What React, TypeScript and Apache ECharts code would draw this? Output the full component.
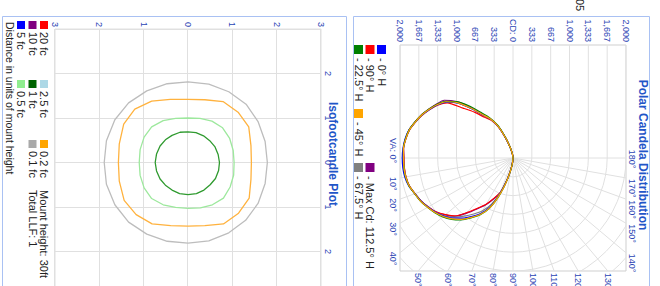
import React, { useEffect, useRef } from "react";
import * as echarts from "echarts";

// ---------------- Polar candela distribution (values in cd) ----------------
const VA_ANGLES = [0, 5, 10, 15, 20, 25, 30, 35, 40, 45, 50, 55, 60, 65, 70, 75, 80, 85, 90];
const CD_AXIS_MAX = 2000;
const CD_GRID_DIVISIONS = 6;
const ANGLE_LABELS = [0, 10, 20, 30, 40, 50, 60, 70, 80, 90, 100, 110, 120, 130, 140, 150, 160, 170, 180];
const GRID_SPOKES = [10, 20, 30, 40, 50, 60, 70, 80, 90, 100, 110, 120, 130, 140, 150, 160, 170];

// right side of plot = this plane, left side = opposite plane
const H0_RIGHT = [1960, 1958, 1945, 1910, 1850, 1800, 1738, 1675, 1600, 1505, 1390, 1260, 1130, 950, 670, 395, 190, 70, 0];
const H0_LEFT = [1960, 1955, 1940, 1908, 1846, 1785, 1712, 1638, 1540, 1372, 1140, 930, 790, 615, 368, 192, 88, 34, 0];
const H90_RIGHT = [1930, 1930, 1922, 1898, 1845, 1795, 1730, 1660, 1558, 1451, 1257, 1080, 938, 779, 637, 390, 177, 65, 0];
const H90_LEFT = [1930, 1944, 1926, 1898, 1840, 1780, 1708, 1630, 1520, 1250, 1060, 880, 770, 600, 360, 190, 86, 34, 0];
const H22_RIGHT = [1940, 1940, 1932, 1905, 1852, 1808, 1748, 1690, 1622, 1535, 1430, 1295, 1160, 980, 700, 410, 200, 75, 0];
const H22_LEFT = [1940, 1947, 1932, 1905, 1850, 1792, 1722, 1650, 1560, 1410, 1200, 980, 820, 635, 380, 200, 92, 36, 0];
const H45_RIGHT = [1938, 1938, 1929, 1903, 1850, 1805, 1743, 1682, 1611, 1522, 1416, 1283, 1151, 974, 690, 407, 195, 71, 0];
const H45_LEFT = [1938, 1947, 1929, 1903, 1846, 1788, 1717, 1643, 1549, 1381, 1151, 938, 797, 620, 372, 195, 89, 35, 0];
const H67_RIGHT = [1935, 1935, 1925, 1900, 1846, 1800, 1738, 1675, 1590, 1480, 1345, 1210, 1080, 900, 640, 380, 180, 65, 0];
const H67_LEFT = [1935, 1945, 1928, 1900, 1843, 1785, 1715, 1640, 1545, 1375, 1145, 935, 795, 618, 370, 194, 88, 35, 0];
const H112_RIGHT = [1932, 1932, 1925, 1900, 1848, 1800, 1735, 1665, 1565, 1460, 1275, 1095, 950, 790, 645, 392, 182, 66, 0];
const H112_LEFT = [1932, 1946, 1930, 1905, 1850, 1795, 1725, 1660, 1590, 1410, 1170, 945, 800, 622, 374, 196, 89, 35, 0];

const POLAR_NAMES = ["- 0° H", "- 90° H", "- 22.5° H", "- 45° H", "- 67.5° H", "- Max Cd: 112.5° H"];
const POLAR_COLORS = ["#0000ff", "#ff0000", "#008000", "#ffa500", "#808080", "#800080"];
const POLAR_DRAW_ORDER = [5, 1, 4, 0, 2, 3];

// ---------------- Isofootcandle (units of mount height) ----------------
const ISO_01FC = [[1.81, 0], [1.76, 0.47], [1.58, 0.92], [1.30, 1.30], [0.92, 1.58], [0.47, 1.74], [0, 1.79], [-0.47, 1.74], [-0.92, 1.58], [-1.31, 1.31], [-1.59, 0.92], [-1.76, 0.47], [-1.81, 0], [-1.77, -0.47], [-1.61, -0.93], [-1.34, -1.34], [-0.96, -1.65], [-0.49, -1.84], [0, -1.89], [0.49, -1.84], [0.95, -1.65], [1.34, -1.34], [1.61, -0.93], [1.77, -0.47], [1.81, 0]];
const ISO_02FC = [[1.43, 0], [1.42, 0.38], [1.38, 0.80], [1.14, 1.14], [0.80, 1.38], [0.38, 1.42], [0, 1.43], [-0.38, 1.42], [-0.80, 1.37], [-1.13, 1.13], [-1.37, 0.79], [-1.41, 0.38], [-1.42, 0], [-1.42, -0.40], [-1.38, -0.82], [-1.20, -1.20], [-0.86, -1.45], [-0.42, -1.55], [0, -1.57], [0.42, -1.55], [0.85, -1.44], [1.17, -1.17], [1.38, -0.81], [1.42, -0.39], [1.43, 0]];
const ISO_05FC = [[1.03, 0], [1.02, 0.28], [0.95, 0.55], [0.80, 0.80], [0.55, 0.95], [0.28, 1.03], [0, 1.04], [-0.27, 1.02], [-0.54, 0.94], [-0.78, 0.78], [-0.93, 0.54], [-0.99, 0.27], [-1.00, 0], [-0.99, -0.28], [-0.94, -0.56], [-0.80, -0.82], [-0.57, -0.99], [-0.29, -1.08], [0, -1.10], [0.29, -1.08], [0.57, -0.99], [0.81, -0.82], [0.95, -0.56], [1.01, -0.28], [1.03, 0]];
const ISO_1FC = [[0.72, 0], [0.70, 0.19], [0.62, 0.36], [0.50, 0.50], [0.36, 0.62], [0.18, 0.69], [0, 0.71], [-0.18, 0.68], [-0.35, 0.61], [-0.49, 0.49], [-0.60, 0.35], [-0.67, 0.18], [-0.69, 0], [-0.68, -0.18], [-0.61, -0.36], [-0.51, -0.51], [-0.37, -0.63], [-0.19, -0.71], [0, -0.74], [0.19, -0.71], [0.37, -0.63], [0.51, -0.51], [0.62, -0.36], [0.70, -0.19], [0.72, 0]];

const ISO_LEVEL_NAMES = ["20 fc", "10 fc", "5 fc", "2.5 fc", "1 fc", "0.5 fc", "0.2 fc", "0.1 fc"];
const ISO_LEVEL_COLORS = ["#ff0000", "#800080", "#0000ff", "#add8e6", "#006400", "#90ee90", "#ffa500", "#a9a9a9"];
const ISO_INFO = ["Mount height: 30ft", "Total LLF: 1"];

const FONT = '"Liberation Sans", Arial, sans-serif';
const TITLE_BLUE = "#1f56c8";
const LABEL_BLUE = "#2a44b4";
const GRID_LINE = "#e0e0e0";
const PANEL_BORDER = "#a9c1f3";
const TEXT_DARK = "#222222";

function toPolarData(right: number[], left: number[]) {
  const pts: number[][] = [];
  for (let i = VA_ANGLES.length - 1; i >= 0; i--) pts.push([right[i], VA_ANGLES[i]]);
  for (let i = 1; i < VA_ANGLES.length; i++) pts.push([left[i], 360 - VA_ANGLES[i]]);
  return pts;
}

function txt(x: number, y: number, text: string, font: string, fill: string, align = "left", vAlign = "middle") {
  return {
    type: "text",
    x,
    y,
    silent: true,
    style: { text, font, fill, align, verticalAlign: vAlign, textAlign: align, textVerticalAlign: vAlign },
  };
}

function sq(x: number, y: number, size: number, color: string) {
  return { type: "rect", silent: true, shape: { x, y, width: size, height: size }, style: { fill: color } };
}

function buildOption() {
  const cdStep = CD_AXIS_MAX / CD_GRID_DIVISIONS;
  const polarData = [
    toPolarData(H0_RIGHT, H0_LEFT),
    toPolarData(H90_RIGHT, H90_LEFT),
    toPolarData(H22_RIGHT, H22_LEFT),
    toPolarData(H45_RIGHT, H45_LEFT),
    toPolarData(H67_RIGHT, H67_LEFT),
    toPolarData(H112_RIGHT, H112_LEFT),
  ];

  const gridData: number[][] = [];
  for (let k = 1; k <= CD_GRID_DIVISIONS + 2; k++) gridData.push([0, k]);
  GRID_SPOKES.forEach((a) => gridData.push([1, a]));
  for (let k = -CD_GRID_DIVISIONS; k <= CD_GRID_DIVISIONS; k++) gridData.push([2, k]);
  gridData.push([3, 0]);

  const D = CD_GRID_DIVISIONS;
  const lineStyle = { stroke: GRID_LINE, lineWidth: 1, fill: "none" };

  const polarSeries = POLAR_DRAW_ORDER.map((i) => ({
    type: "line",
    name: POLAR_NAMES[i],
    coordinateSystem: "polar",
    polarIndex: 0,
    data: polarData[i],
    showSymbol: false,
    smooth: 0.2,
    lineStyle: { color: POLAR_COLORS[i], width: 1.2 },
    z: 5,
  }));

  const isoSets = [
    { data: ISO_01FC, color: "#bdbdbd" },
    { data: ISO_02FC, color: "#ffb23e" },
    { data: ISO_05FC, color: "#9de89d" },
    { data: ISO_1FC, color: "#2f9a2f" },
  ];
  const isoSeries = isoSets.map((s) => ({
    type: "line",
    xAxisIndex: 1,
    yAxisIndex: 1,
    data: s.data,
    showSymbol: false,
    smooth: false,
    lineStyle: { color: s.color, width: 1.3 },
    z: 5,
  }));

  const graphics: any[] = [];
  graphics.push({ type: "rect", silent: true, z: -10, shape: { x: 16.5, y: 10.5, width: 300, height: 296 }, style: { fill: "none", stroke: PANEL_BORDER, lineWidth: 1 } });
  graphics.push({ type: "rect", silent: true, z: -10, shape: { x: 16.5, y: 313.5, width: 300, height: 344 }, style: { fill: "none", stroke: PANEL_BORDER, lineWidth: 1 } });
  graphics.push(txt(155, 17, "Polar Candela Distribution", `bold 12px ${FONT}`, TITLE_BLUE, "center"));
  graphics.push(txt(154, 327, "Isofootcandle Plot", `bold 12px ${FONT}`, TITLE_BLUE, "center"));
  graphics.push(txt(-1, 80, "05", `11px ${FONT}`, TEXT_DARK, "left"));

  const polarLegendPos = [[45, 274], [45, 285.5], [45, 297], [109, 297], [163, 297], [163, 285.5]];
  POLAR_NAMES.forEach((name, i) => {
    const [x, y] = polarLegendPos[i];
    graphics.push(sq(x, y, 9, POLAR_COLORS[i]));
    graphics.push(txt(x + 13, y + 4.5, name, `11px ${FONT}`, TEXT_DARK));
  });

  const colX = [21, 80, 140];
  const rowY = [612, 623.5, 635];
  ISO_LEVEL_NAMES.forEach((name, i) => {
    const x = colX[Math.floor(i / 3)];
    const y = rowY[i % 3];
    graphics.push(sq(x, y, 8, ISO_LEVEL_COLORS[i]));
    graphics.push(txt(x + 11, y + 4, name, `11px ${FONT}`, TEXT_DARK));
  });
  ISO_INFO.forEach((t, i) => graphics.push(txt(190, rowY[i] + 4, t, `11px ${FONT}`, TEXT_DARK)));
  graphics.push(txt(22, 650, "Distance in units of mount height", `10.5px ${FONT}`, TEXT_DARK));

  return {
    animation: false,
    textStyle: { fontFamily: FONT },
    grid: [
      { left: 45, top: 34, width: 226, height: 226, show: true, borderColor: "#cfcfcf", borderWidth: 1, backgroundColor: "transparent" },
      { left: 29, top: 339, width: 267, height: 266, show: true, borderColor: GRID_LINE, borderWidth: 1, backgroundColor: "transparent" },
    ],
    xAxis: [
      { gridIndex: 0, type: "value", min: -D, max: D, interval: 1, show: false },
      {
        gridIndex: 1, type: "value", min: -3, max: 3, interval: 1, position: "top",
        axisLine: { show: false }, axisTick: { show: false },
        splitLine: { show: true, lineStyle: { color: GRID_LINE, width: 1 } },
        axisLabel: { showMinLabel: false, showMaxLabel: false, margin: 2, color: LABEL_BLUE, fontSize: 9, fontFamily: FONT, formatter: (v: number) => String(Math.abs(v)) },
      },
    ],
    yAxis: [
      {
        gridIndex: 0, type: "value", min: -D, max: D, interval: 1,
        axisLine: { show: false }, axisTick: { show: false }, splitLine: { show: false },
        axisLabel: {
          margin: 3, color: LABEL_BLUE, fontSize: 9, fontFamily: FONT,
          formatter: (v: number) => (Math.abs(v) < 1e-6 ? "CD: 0" : Math.round(Math.abs(v) * cdStep).toLocaleString("en-US")),
        },
      },
      {
        gridIndex: 1, type: "value", min: -3, max: 3, interval: 1,
        axisLine: { show: false }, axisTick: { show: false },
        splitLine: { show: true, lineStyle: { color: GRID_LINE, width: 1 } },
        axisLabel: { margin: 2, color: LABEL_BLUE, fontSize: 9, fontFamily: FONT, formatter: (v: number) => String(Math.abs(v)) },
      },
    ],
    polar: { center: [158, 147], radius: 113 },
    angleAxis: { type: "value", min: 0, max: 360, startAngle: 270, clockwise: false, show: false },
    radiusAxis: { type: "value", min: 0, max: CD_AXIS_MAX, show: false },
    series: [
      {
        type: "custom",
        xAxisIndex: 0,
        yAxisIndex: 0,
        clip: true,
        silent: true,
        z: 1,
        data: gridData,
        renderItem: (params: any, api: any) => {
          const kind = api.value(0);
          const v = api.value(1);
          const c = api.coord([0, 0]);
          if (kind === 0) {
            const r = api.coord([v, 0])[0] - c[0];
            return { type: "arc", shape: { cx: c[0], cy: c[1], r, startAngle: -Math.PI / 2, endAngle: Math.PI / 2, clockwise: true }, style: lineStyle };
          }
          if (kind === 1) {
            const a = (v * Math.PI) / 180;
            const p = api.coord([2 * D * Math.sin(a), -2 * D * Math.cos(a)]);
            return { type: "line", shape: { x1: c[0], y1: c[1], x2: p[0], y2: p[1] }, style: lineStyle };
          }
          if (kind === 2) {
            const p1 = api.coord([-D, v]);
            const p2 = api.coord([0, v]);
            return { type: "line", shape: { x1: p1[0], y1: p1[1], x2: p2[0], y2: p2[1] }, style: lineStyle };
          }
          const p1 = api.coord([0, -D]);
          const p2 = api.coord([0, D]);
          return { type: "line", shape: { x1: p1[0], y1: p1[1], x2: p2[0], y2: p2[1] }, style: lineStyle };
        },
      },
      {
        type: "custom",
        xAxisIndex: 0,
        yAxisIndex: 0,
        clip: false,
        silent: true,
        z: 2,
        data: ANGLE_LABELS.map((a) => [a, 0]),
        renderItem: (params: any, api: any) => {
          const a = api.value(0);
          const rad = (a * Math.PI) / 180;
          const s = Math.sin(rad);
          const co = Math.cos(rad);
          const t = D / Math.max(Math.abs(s), Math.abs(co));
          const p = api.coord([t * s, -t * co]);
          let x = p[0];
          let y = p[1];
          let align = "left";
          let vAlign = "middle";
          const text = a === 0 ? "VA: 0°" : a + "°";
          if (Math.abs(co) > Math.abs(s) + 1e-9 && co > 0) {
            y += 3;
            vAlign = "top";
            if (a === 0) { align = "right"; x += 5; } else { x -= 1; }
          } else if (Math.abs(co) > Math.abs(s) + 1e-9) {
            y -= 1;
            vAlign = "bottom";
            if (a === 180) { align = "center"; x += 1; } else { x += 1; }
          } else {
            x += 2;
          }
          return {
            type: "text",
            x,
            y,
            style: { text, fill: LABEL_BLUE, font: `9px ${FONT}`, align, verticalAlign: vAlign, textAlign: align, textVerticalAlign: vAlign },
          };
        },
      },
      ...polarSeries,
      ...isoSeries,
    ],
    graphic: graphics,
  };
}

export default function App() {
  const ref = useRef<HTMLDivElement>(null);
  useEffect(() => {
    if (!ref.current) return;
    const chart = echarts.init(ref.current, null, { renderer: "svg" });
    chart.setOption(buildOption() as any);
    return () => chart.dispose();
  }, []);
  return (
    <div style={{ position: "fixed", left: 0, top: 0, width: 660, height: 286, overflow: "hidden", background: "#ffffff" }}>
      <div
        ref={ref}
        style={{
          position: "absolute",
          left: 0,
          top: 0,
          width: 300,
          height: 660,
          transform: "translate(660px, 0px) rotate(90deg)",
          transformOrigin: "0 0",
        }}
      />
    </div>
  );
}
